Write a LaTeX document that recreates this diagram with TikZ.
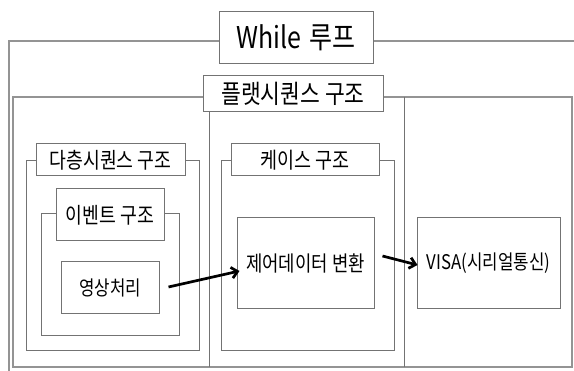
\documentclass[tikz,border=0pt]{standalone}
\usepackage{fontspec}
\setmainfont{Noto Sans CJK KR}
\usetikzlibrary{arrows.meta}
\newcommand{\tx}[2]{\scalebox{1}[1.2]{\fontsize{#1}{#1}\selectfont #2}}
\begin{document}
\begin{tikzpicture}[x=1pt,y=-1pt,
  frame/.style={draw=black!55,line width=1pt},
  outerline/.style={draw=black!42,line width=1.6pt},
  lbl/.style={frame,fill=white,inner sep=0pt},
  box/.style={frame,inner sep=0pt},
  arr/.style={-{Straight Barb[length=6pt,width=11pt]},line width=2.7pt,black}]
\useasboundingbox (0,0) rectangle (574,371);
\fill[white] (0,0) rectangle (574,371);

% While loop frame
\draw[outerline] (574,41) -- (9,41) -- (9,371);
% Flat sequence frame
\draw[outerline] (13,97) rectangle (572,367);
\draw[frame] (209,97) -- (209,367);
\draw[frame] (404,97) -- (404,367);

% containers
\node[box,minimum width=173pt,minimum height=190pt] (multi) at (112.5,256) {};
\node[box,minimum width=173pt,minimum height=190pt] (case) at (307.5,256) {};
\node[box,minimum width=138pt,minimum height=122pt] (event) at (110,275) {};

% labels
\node[lbl,minimum width=154pt,minimum height=52pt] (wl) at (296,38) {\tx{25}{While\hspace{0.12em} 루프}};
\node[lbl,minimum width=180pt,minimum height=36pt] (fl) at (293,94) {\tx{21.5}{플랫시퀀스 구조}};
\node[lbl,minimum width=149pt,minimum height=32pt] (ml) at (110.5,160) {\tx{18.3}{다층시퀀스 구조}};
\node[lbl,minimum width=148pt,minimum height=32pt] (cl) at (305,160) {\tx{18.5}{케이스 구조}};
\node[lbl,minimum width=108pt,minimum height=52pt] (el) at (110,215) {\tx{18.3}{이벤트 구조}};

% content boxes
\node[box,minimum width=98pt,minimum height=52pt] (ysp) at (110,288) {\tx{16.8}{영상처리}};
\node[box,minimum width=137pt,minimum height=91pt] (ctrl) at (305.5,263.5) {\tx{17.8}{제어데이터 변환}};
\node[box,minimum width=143pt,minimum height=91pt] (visa) at (488.5,263.5) {\tx{16.8}{VISA(시리얼통신)}};

% arrows
\draw[arr] ([xshift=9pt,yshift=1pt]ysp.east) -- ([xshift=3pt,yshift=-7.5pt]ctrl.west);
\draw[arr] ([xshift=8pt,yshift=7.5pt]ctrl.east) -- ([xshift=1pt,yshift=-1.5pt]visa.west);
\end{tikzpicture}
\end{document}
